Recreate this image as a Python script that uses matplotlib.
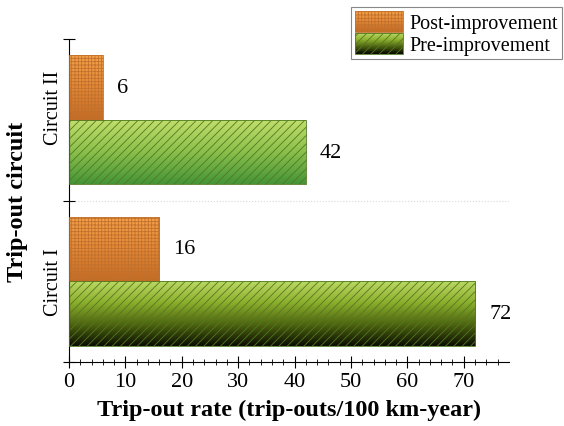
import numpy as np
import matplotlib
matplotlib.use('Agg')
import matplotlib.pyplot as plt
from matplotlib.patches import Rectangle
from matplotlib.legend_handler import HandlerBase
from matplotlib.colors import LinearSegmentedColormap, to_rgb

circuits = ['Circuit I', 'Circuit II']
post_rates = [16, 6]
pre_rates = [72, 42]
series_names = ['Post-improvement', 'Pre-improvement']

plt.rcParams['font.family'] = ['Liberation Serif', 'DejaVu Serif']
plt.rcParams['hatch.linewidth'] = 0.6

orange_grad = ['#f6a24a', '#e48836', '#c46a22']
green_grad = {0: ['#bcd862', '#8cae2c', '#4e6410', '#0c0c02'],
              1: ['#c4de6c', '#8cc04c', '#449438']}


def gradient_fill(ax, patch, colors):
    x0, y0 = patch.get_x(), patch.get_y()
    w, h = patch.get_width(), patch.get_height()
    cmap = LinearSegmentedColormap.from_list('g', colors)
    grad = np.linspace(0, 1, 256).reshape(-1, 1)
    im = ax.imshow(grad, cmap=cmap, aspect='auto', origin='upper',
                   extent=(x0, x0 + w, y0, y0 + h), zorder=2,
                   interpolation='bilinear')
    im.set_clip_path(patch)


class GradHandler(HandlerBase):
    # legend key with a vertical colour gradient and hatch on top
    def __init__(self, colors, hatch, hcol):
        super().__init__()
        self.colors = colors
        self.hatch = hatch
        self.hcol = hcol

    def create_artists(self, legend, orig, xd, yd, width, height, fontsize, trans):
        arts = []
        n = 30
        cs = [np.array(to_rgb(c)) for c in self.colors]
        for i in range(n):
            t = i / (n - 1) * (len(cs) - 1)
            k = min(int(t), len(cs) - 2)
            f = t - k
            c = cs[k] * (1 - f) + cs[k + 1] * f
            r = Rectangle((-xd, -yd + height * (1 - (i + 1) / n)), width,
                          height / n + 0.3, facecolor=c, edgecolor='none',
                          transform=trans)
            arts.append(r)
        arts.append(Rectangle((-xd, -yd), width, height, facecolor='none',
                              edgecolor=self.hcol, hatch=self.hatch,
                              lw=0.6, transform=trans))
        return arts


fig = plt.figure(figsize=(5.64, 4.27), dpi=100)
ax = fig.add_axes([0.1223, 0.150, 0.780, 0.756])

y = np.arange(len(circuits))
h = 0.4
post_bars = ax.barh(y + h / 2, post_rates, h, facecolor='none',
                    edgecolor='#c0712e', hatch='+++++', lw=0.6, zorder=3)
pre_bars = ax.barh(y - h / 2, pre_rates, h, facecolor='none',
                   edgecolor='#4f7a22', hatch='////', lw=0.6, zorder=3)

for p in post_bars:
    gradient_fill(ax, p, orange_grad)
for i, p in enumerate(pre_bars):
    gradient_fill(ax, p, green_grad[i])

for bars, vals in [(post_bars, post_rates), (pre_bars, pre_rates)]:
    for p, v in zip(bars, vals):
        ax.text(v + 2.5, p.get_y() + p.get_height() / 2, str(v),
                ha='left', va='center', fontsize=16)

ax.set_xlim(0, 78)
ax.set_ylim(-0.5, 1.5)
ax.set_xticks(np.arange(0, 71, 10))
ax.set_xticks(np.arange(0, 78, 2), minor=True)
ax.tick_params(axis='x', which='major', direction='inout', length=8,
               labelsize=16, width=0.8, pad=3)
ax.tick_params(axis='x', which='minor', direction='inout', length=4, width=0.6)

ax.set_yticks([-0.5, 0.5, 1.5])
ax.set_yticklabels(['', '', ''])
ax.set_yticks(y + np.array([0.0, 0.08]), minor=True)
ax.set_yticklabels(circuits, minor=True, rotation=90, va='center',
                   fontsize=14.5)
ax.tick_params(axis='y', which='major', direction='inout', length=8, width=0.8)
ax.tick_params(axis='y', which='minor', length=0, pad=4)
ax.axhline(0.5, color='#d8d8d8', lw=0.8, ls=':', zorder=1)

for s in ['top', 'right']:
    ax.spines[s].set_visible(False)
ax.spines['left'].set_linewidth(0.8)
ax.spines['bottom'].set_linewidth(0.8)

ax.set_xlabel('Trip-out rate (trip-outs/100 km-year)', fontsize=17.5,
              fontweight='bold', va='center')
ax.xaxis.set_label_coords(0.5, -0.148)
ax.set_ylabel('Trip-out circuit', fontsize=17.5, fontweight='bold',
              va='center')
ax.yaxis.set_label_coords(-0.118, 0.5)

h1 = Rectangle((0, 0), 1, 1)
h2 = Rectangle((0, 0), 1, 1)
leg = fig.legend([h1, h2], series_names, loc='upper right',
                 bbox_to_anchor=(562 / 564, 1 - 8 / 427), fontsize=14.5,
                 fancybox=False, edgecolor='#888888', framealpha=1,
                 handlelength=2.4, handleheight=1.2, labelspacing=0.0,
                 handletextpad=0.3, borderpad=0.2, borderaxespad=0,
                 handler_map={h1: GradHandler(orange_grad, '+++++', '#c0712e'),
                              h2: GradHandler(green_grad[0], '////', '#4f7a22')})
leg.get_frame().set_linewidth(0.8)

plt.savefig('out.png', dpi=100)
